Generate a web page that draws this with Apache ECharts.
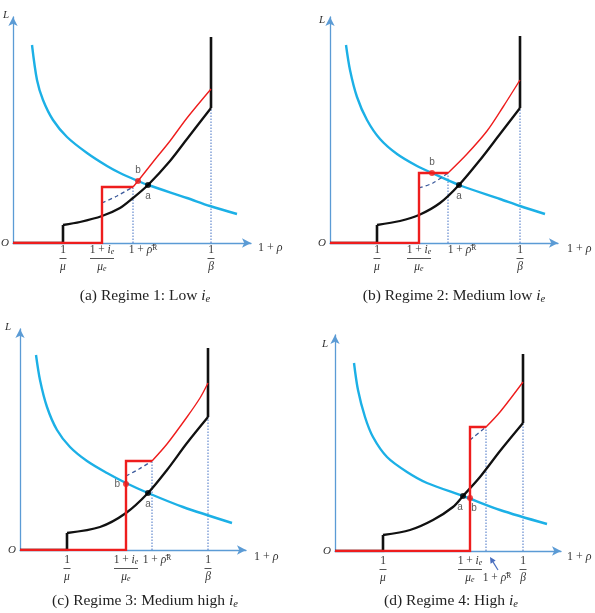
<!DOCTYPE html>
<html><head><meta charset="utf-8">
<script src="https://cdn.jsdelivr.net/npm/echarts@6/dist/echarts.min.js"></script>
<style>html,body{margin:0;padding:0;background:#fff}#c{width:595px;height:613px}</style>
</head><body><div id="c"></div>
<script>
// ---------- DATA (units, origin = axes origin) ----------
// Panel (a) Regime 1: Low i_e
const a_range = [238, 226];
const a_ticks = [50, 89, 120, 198];          // 1/mu, (1+ie)/mue, 1+rhoR, 1/beta
const a_blue = [[19,198],[24,163],[30,143],[40,123],[54,106],[74,90],[94,77],[107,70],[125,62],[135,58],[174,45],[197,37],[224,29]];
const a_blackStep = [[0,0],[50,0],[50,18]];
const a_blackCurve = [[50,18],[67,21],[89,27],[107,35],[120,45],[135,58],[157,82],[174,104],[198,135]];
const a_blackTop = [[198,135],[198,206]];
const a_redStep = [[0,0],[89,0],[89,56],[120,56]];
const a_redCurve = [[120,56],[125,62],[140,81],[157,102],[174,125],[198,154]];
const a_dashed = [[89,40],[104,47],[120,56]];
const a_pointA = [135,58];
const a_pointB = [125,62];

// Panel (b) Regime 2: Medium low i_e
const b_range = [228, 226];
const b_ticks = [47, 89, 118, 190];
const b_blue = [[16,198],[20,173],[27,146],[37,123],[50,104],[67,89],[87,77],[102,70],[129,58],[170,44],[190,37],[215,29]];
const b_blackStep = [[0,0],[47,0],[47,18]];
const b_blackCurve = [[47,18],[70,22],[89,28],[110,40],[129,58],[150,83],[170,109],[190,135]];
const b_blackTop = [[190,135],[190,207]];
const b_redStep = [[0,0],[89,0],[89,70],[118,70]];
const b_redCurve = [[118,70],[137,89],[157,112],[173,136],[190,163]];
const b_dashed = [[89,55],[103,60],[118,70]];
const b_pointA = [129,58];
const b_pointB = [102,70];

// Panel (c) Regime 3: Medium high i_e
const c_range = [226, 221];
const c_ticks = [47, 106, 132, 188];
const c_blue = [[16,195],[20,170],[27,143],[37,120],[50,103],[67,89],[87,77],[106,67],[128,57],[163,43],[212,27]];
const c_blackStep = [[0,0],[47,0],[47,17]];
const c_blackCurve = [[47,17],[80,23],[106,37],[128,57],[147,80],[167,107],[188,133]];
const c_blackTop = [[188,133],[188,202]];
const c_redStep = [[0,0],[106,0],[106,89],[132,89]];
const c_redCurve = [[132,89],[147,106],[167,133],[180,152],[188,167]];
const c_dashed = [[106,74],[119,81],[132,89]];
const c_pointA = [128,57];
const c_pointB = [106,66];

// Panel (d) Regime 4: High i_e
const d_range = [226, 216];
const d_ticks = [48, 135, 151, 188];
const d_blue = [[19,188],[23,161],[30,134],[38,114],[52,94],[72,79],[92,68],[128,55],[165,41],[212,27]];
const d_blackStep = [[0,0],[48,0],[48,16]];
const d_blackCurve = [[48,16],[75,21],[98,31],[118,44],[128,55],[145,74],[165,100],[188,128]];
const d_blackTop = [[188,128],[188,197]];
const d_redStep = [[0,0],[135,0],[135,124],[151,124]];
const d_redCurve = [[151,124],[165,139],[188,169]];
const d_dashed = [[135,111],[151,124]];
const d_pointA = [128,55];
const d_pointB = [135,53];
const d_arrow = [[163,-19],[155,-6]];   // annotation arrow under the axis

const captions = ['(a) Regime 1: Low ', '(b) Regime 2: Medium low ', '(c) Regime 3: Medium high ', '(d) Regime 4: High '];

// ---------- STYLE / LAYOUT ----------
const SERIF = "'Liberation Serif','DejaVu Serif',serif";
const SANS = "'Liberation Sans','DejaVu Sans',sans-serif";
const AXC = '#5b9bd5', BLUE = '#1cb0e6', RED = '#ee1d1d', BLACK = '#111', DOT = '#4472c4', DASH = '#3b5a9c', TXT = '#333';

const panels = [
  {range:a_range,ticks:a_ticks,blue:a_blue,blackStep:a_blackStep,blackCurve:a_blackCurve,blackTop:a_blackTop,redStep:a_redStep,redCurve:a_redCurve,dashed:a_dashed,pA:a_pointA,pB:a_pointB},
  {range:b_range,ticks:b_ticks,blue:b_blue,blackStep:b_blackStep,blackCurve:b_blackCurve,blackTop:b_blackTop,redStep:b_redStep,redCurve:b_redCurve,dashed:b_dashed,pA:b_pointA,pB:b_pointB},
  {range:c_range,ticks:c_ticks,blue:c_blue,blackStep:c_blackStep,blackCurve:c_blackCurve,blackTop:c_blackTop,redStep:c_redStep,redCurve:c_redCurve,dashed:c_dashed,pA:c_pointA,pB:c_pointB},
  {range:d_range,ticks:d_ticks,blue:d_blue,blackStep:d_blackStep,blackCurve:d_blackCurve,blackTop:d_blackTop,redStep:d_redStep,redCurve:d_redCurve,dashed:d_dashed,pA:d_pointA,pB:d_pointB}
];

const layout = [
  {left:13, top:17, labMargin:1, rhoShift:20, low:false, LGap:2, LPad:4, xGap:7, xDy:10, aPos:'bottom', bPos:'top', cap:[145,296]},
  {left:330, top:17, labMargin:1, rhoShift:28, low:false, LGap:-3, LPad:5, xGap:9, xDy:12, aPos:'bottom', bPos:'top', cap:[454,296]},
  {left:20, top:329, labMargin:4, rhoShift:10, low:false, LGap:2, LPad:9, xGap:8, xDy:14, aPos:'bottom', bPos:'left', cap:[145,601]},
  {left:335, top:335, labMargin:4, rhoShift:22, low:true, LGap:-9, LPad:7, xGap:6, xDy:12, aPos:'bottom', bPos:'bottom', cap:[451,601]}
];

function baseRich(shift) {
  return {
    n:{fontFamily:SERIF,fontSize:11.5,color:TXT,lineHeight:12},
    it:{fontFamily:SERIF,fontStyle:'italic',fontSize:11.5,color:TXT,lineHeight:12},
    sub:{fontFamily:SERIF,fontStyle:'italic',fontSize:8,color:TXT,lineHeight:12,verticalAlign:'bottom'},
    sup:{fontFamily:SERIF,fontSize:7.5,color:TXT,lineHeight:12,verticalAlign:'top'},
    bar:{width:7,height:1,backgroundColor:'#555',lineHeight:5,fontSize:1},
    barW:{width:24,height:1,backgroundColor:'#555',lineHeight:5,fontSize:1},
    gap:{lineHeight:17,fontSize:1},
    sh:{width:shift,fontSize:1,lineHeight:12}
  };
}
function tickTexts(low) {
  return [
    '{n|1}\n{bar| }\n{it|μ}',
    '{n|1 + }{it|i}{sub|e}\n{barW| }\n{it|μ}{sub|e}',
    (low ? '{gap| }\n' : '') + '{sh| }{n|1 + }{it|ρ\u0304}{sup|R}',
    '{n|1}\n{bar| }\n{it|β}'
  ];
}

const grid = [], xAxis = [], yAxis = [], series = [], graphic = [];
panels.forEach((P, i) => {
  const L = layout[i];
  grid.push({left:L.left, top:L.top, width:P.range[0], height:P.range[1], outerBoundsMode:'none', containLabel:false});
  const texts = tickTexts(L.low);
  xAxis.push({
    type:'value', gridIndex:i, min:0, max:P.range[0],
    axisLine:{onZero:false, lineStyle:{color:AXC,width:1.3}, symbol:['none','arrow'], symbolSize:[7,9]},
    axisTick:{show:false}, splitLine:{show:false},
    axisLabel:{customValues:P.ticks, margin:L.labMargin, verticalAlign:'top',
      formatter:(v) => texts[P.ticks.indexOf(v)] || '', rich:baseRich(L.rhoShift)},
    name:'1 + {it|ρ}', nameLocation:'end', nameGap:L.xGap,
    nameTextStyle:{fontFamily:SERIF,fontSize:12,color:TXT,align:'left',verticalAlign:'middle',padding:[L.xDy,0,0,0],
      rich:{it:{fontFamily:SERIF,fontStyle:'italic',fontSize:12,color:TXT}}}
  });
  yAxis.push({
    type:'value', gridIndex:i, min:0, max:P.range[1],
    axisLine:{onZero:false, lineStyle:{color:AXC,width:1.3}, symbol:['none','arrow'], symbolSize:[7,9]},
    axisTick:{show:false}, splitLine:{show:false},
    axisLabel:{customValues:[0], margin:4, formatter:() => 'O', fontFamily:SERIF, fontStyle:'italic', fontSize:11, color:TXT},
    name:'L', nameLocation:'end', nameGap:L.LGap,
    nameTextStyle:{fontFamily:SERIF,fontStyle:'italic',fontSize:11,color:TXT,align:'right',verticalAlign:'middle',padding:[0,L.LPad,0,0]}
  });
  const line = (data, color, width, extra) => Object.assign({
    type:'line', xAxisIndex:i, yAxisIndex:i, data, symbol:'none', showSymbol:false, silent:true, animation:false,
    lineStyle:{color, width, cap:'butt', join:'miter'}
  }, extra || {});
  series.push(line(P.blue, BLUE, 2.4, {smooth:0.3, z:2}));
  series.push(line([[P.ticks[2],0],[P.ticks[2],P.redStep[3][1]]], DOT, 1, {z:1, lineStyle:{color:DOT,width:1,type:[1.5,1.5]}}));
  series.push(line([[P.ticks[3],0],[P.ticks[3],P.blackTop[0][1]]], DOT, 1, {z:1, lineStyle:{color:DOT,width:1,type:[1.5,1.5]}}));
  series.push(line(P.blackStep, BLACK, 2.6, {z:3}));
  series.push(line(P.blackCurve, BLACK, 2.3, {smooth:0.3, z:3}));
  series.push(line(P.blackTop, BLACK, 2.6, {z:3}));
  series.push(line(P.dashed, DASH, 1.3, {smooth:0.3, z:3, lineStyle:{color:DASH,width:1.3,type:[4,3]}}));
  series.push(line(P.redStep, RED, 2.4, {z:4}));
  series.push(line(P.redCurve, RED, 1.4, {smooth:0.3, z:4}));
  series.push({type:'scatter', xAxisIndex:i, yAxisIndex:i, data:[P.pA], symbolSize:6, itemStyle:{color:'#000'}, silent:true, animation:false, z:6,
    label:{show:true, formatter:'a', position:L.aPos, distance:3, offset:i===3?[-3,0]:[0,0], fontFamily:SANS, fontSize:10, color:TXT}});
  series.push({type:'scatter', xAxisIndex:i, yAxisIndex:i, data:[P.pB], symbolSize:6, itemStyle:{color:RED}, silent:true, animation:false, z:6,
    label:{show:true, formatter:'b', position:L.bPos, distance:3, offset:i===3?[4,-1]:[0,0], fontFamily:SANS, fontSize:10, color:TXT}});
  graphic.push({type:'text', x:L.cap[0], y:L.cap[1], silent:true,
    style:{text:captions[i] + '{i|i}{e|e}', align:'center', verticalAlign:'middle', fontFamily:SERIF, fontSize:15.5, fill:'#222',
      rich:{i:{fontFamily:SERIF,fontStyle:'italic',fontSize:15.5,fill:'#222',lineHeight:18},
            e:{fontFamily:SERIF,fontStyle:'italic',fontSize:10.5,fill:'#222',lineHeight:18,verticalAlign:'bottom'}}}});
});

const chart = echarts.init(document.getElementById('c'), null, {renderer:'canvas'});
chart.setOption({animation:false, backgroundColor:'#fff', grid, xAxis, yAxis, series, graphic});

// annotation arrow in panel (d), positioned through the panel's own scales
const p0 = chart.convertToPixel({gridIndex:3}, d_arrow[0]);
const p1 = chart.convertToPixel({gridIndex:3}, d_arrow[1]);
const ang = Math.atan2(p1[1]-p0[1], p1[0]-p0[0]);
const hl = 6, hw = 3;
const bx = p1[0] - hl*Math.cos(ang), by = p1[1] - hl*Math.sin(ang);
graphic.push({type:'line', silent:true, shape:{x1:p0[0],y1:p0[1],x2:bx,y2:by}, style:{stroke:'#4a6fbf',lineWidth:1.2}});
graphic.push({type:'polygon', silent:true, shape:{points:[[p1[0],p1[1]],[bx+hw*Math.sin(ang),by-hw*Math.cos(ang)],[bx-hw*Math.sin(ang),by+hw*Math.cos(ang)]]}, style:{fill:'#4a6fbf'}});
chart.setOption({graphic});
</script></body></html>
